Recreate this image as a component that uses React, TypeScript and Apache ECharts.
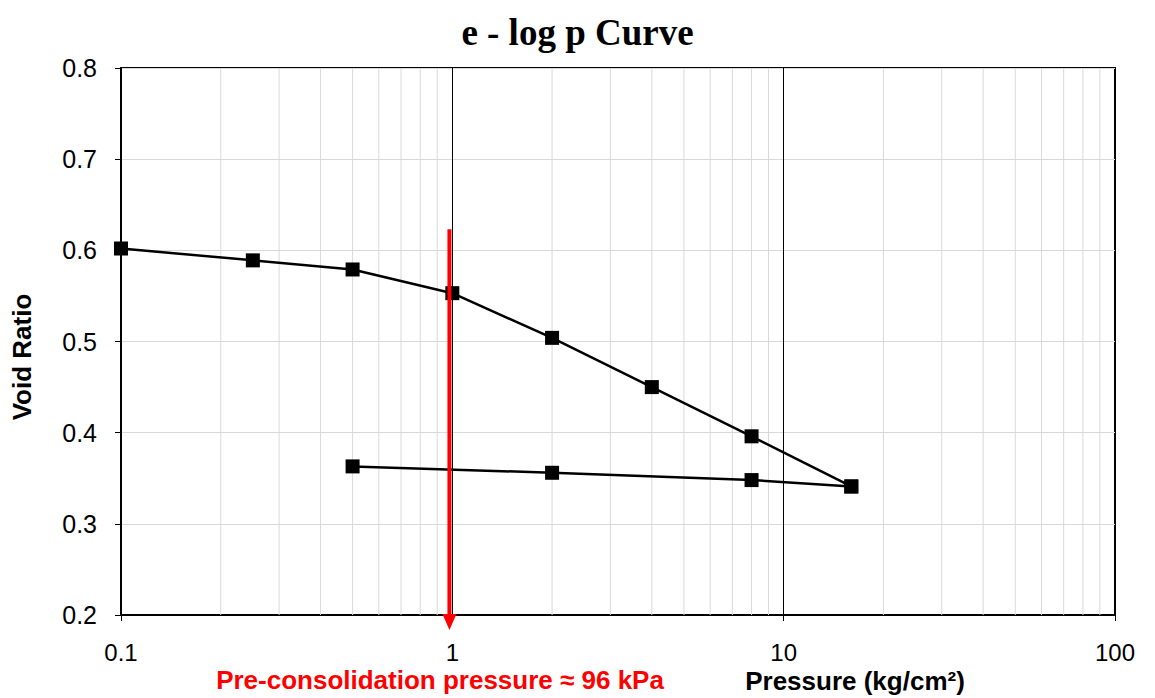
import React, { useEffect, useRef } from 'react';
import * as echarts from 'echarts';

const LOAD_P = [0.1, 0.25, 0.5, 1, 2, 4, 8, 16];
const LOAD_E = [0.602, 0.589, 0.579, 0.553, 0.504, 0.45, 0.396, 0.341];
const UNLOAD_P = [16, 8, 2, 0.5];
const UNLOAD_E = [0.341, 0.348, 0.356, 0.363];
const MINOR_X = [0.2, 0.3, 0.4, 0.5, 0.6, 0.7, 0.8, 0.9, 2, 3, 4, 5, 6, 7, 8, 9, 20, 30, 40, 50, 60, 70, 80, 90];
const PRECON_P = 0.98;
const ARROW_E = [0.623, 0.1835];

const TITLE = 'e - log p Curve';
const Y_NAME = 'Void Ratio';
const X_NAME = 'Pressure (kg/cm²)';
const NOTE = 'Pre-consolidation pressure ≈ 96 kPa';

const SANS = '"Liberation Sans", Arial, sans-serif';

export default function App() {
  const ref = useRef<HTMLDivElement>(null);
  useEffect(() => {
    document.body.style.margin = '0';
    const chart = echarts.init(ref.current!, null, { renderer: 'svg' });
    const option: any = {
      animation: false,
      backgroundColor: '#ffffff',
      title: {
        text: TITLE,
        left: 'center',
        top: 7,
        textStyle: { fontFamily: '"Liberation Serif", "Times New Roman", serif', fontWeight: 'bold', fontSize: 37, color: '#000', lineHeight: 40 },
      },
      grid: { left: 121, right: 40, top: 68, bottom: 83, show: true, borderColor: '#000', borderWidth: 2, backgroundColor: 'transparent' },
      xAxis: {
        type: 'log',
        logBase: 10,
        min: 0.1,
        max: 100,
        axisLine: { show: true, lineStyle: { color: '#000', width: 2 } },
        axisTick: { show: true, length: 6, lineStyle: { color: '#000', width: 1 } },
        axisLabel: {
          margin: 26,
          fontFamily: SANS,
          fontSize: 24,
          lineHeight: 22,
          color: '#000',
          formatter: (v: number) => String(Number(v.toPrecision(6))),
        },
        splitLine: { show: true, lineStyle: { color: '#000', width: 1 } },
      },
      yAxis: {
        type: 'value',
        min: 0.2,
        max: 0.8,
        interval: 0.1,
        axisLine: { show: true, lineStyle: { color: '#000', width: 2 } },
        axisTick: { show: true, length: 6, lineStyle: { color: '#000', width: 1 } },
        axisLabel: {
          margin: 24,
          fontFamily: SANS,
          fontSize: 25,
          lineHeight: 24,
          color: '#000',
          formatter: (v: number) => v.toFixed(1),
        },
        splitLine: { show: true, lineStyle: { color: '#d9d9d9', width: 1 } },
      },
      graphic: [
        {
          type: 'text',
          x: 22,
          y: 357,
          rotation: Math.PI / 2,
          style: { text: Y_NAME, fontFamily: SANS, fontWeight: 'bold', fontSize: 26, lineHeight: 26, fill: '#000', textAlign: 'center', textVerticalAlign: 'middle' },
        },
        {
          type: 'text',
          x: 855,
          y: 681,
          style: { text: X_NAME, fontFamily: SANS, fontWeight: 'bold', fontSize: 26, lineHeight: 24, fill: '#000', textAlign: 'center', textVerticalAlign: 'middle' },
        },
        {
          type: 'text',
          x: 440,
          y: 680,
          style: { text: NOTE, fontFamily: SANS, fontWeight: 'bold', fontSize: 26, lineHeight: 24, fill: '#ff0000', textAlign: 'center', textVerticalAlign: 'middle' },
        },
      ],
      series: [
        {
          type: 'custom',
          z: 1,
          silent: true,
          data: MINOR_X.map((x) => [x]),
          renderItem: (params: any, api: any) => {
            const x = api.value(0);
            const p1 = api.coord([x, 0.8]);
            const p2 = api.coord([x, 0.2]);
            return {
              type: 'line',
              shape: { x1: p1[0], y1: p1[1], x2: p2[0], y2: p2[1] },
              style: { stroke: '#d9d9d9', lineWidth: 1 },
            };
          },
        },
        {
          type: 'line',
          name: 'Loading',
          z: 3,
          data: LOAD_P.map((p, i) => [p, LOAD_E[i]]),
          symbol: 'rect',
          symbolSize: 14,
          itemStyle: { color: '#000' },
          lineStyle: { color: '#000', width: 2.5 },
        },
        {
          type: 'line',
          name: 'Unloading',
          z: 3,
          data: UNLOAD_P.map((p, i) => [p, UNLOAD_E[i]]),
          symbol: 'rect',
          symbolSize: 14,
          itemStyle: { color: '#000' },
          lineStyle: { color: '#000', width: 2.5 },
        },
        {
          type: 'custom',
          z: 4,
          silent: true,
          clip: false,
          data: [[PRECON_P, ARROW_E[0], ARROW_E[1]]],
          renderItem: (params: any, api: any) => {
            const x = api.value(0);
            const top = api.coord([x, api.value(1)]);
            const tip = api.coord([x, api.value(2)]);
            const headH = 16;
            const headW = 7;
            return {
              type: 'group',
              children: [
                {
                  type: 'line',
                  shape: { x1: top[0], y1: top[1], x2: tip[0], y2: tip[1] - headH + 1 },
                  style: { stroke: '#ff0000', lineWidth: 4 },
                },
                {
                  type: 'polygon',
                  shape: { points: [[tip[0] - headW, tip[1] - headH], [tip[0] + headW, tip[1] - headH], [tip[0], tip[1]]] },
                  style: { fill: '#ff0000' },
                },
              ],
            };
          },
        },
      ],
    };
    chart.setOption(option);
    return () => chart.dispose();
  }, []);
  return <div ref={ref} style={{ width: 1155, height: 698 }} />;
}
